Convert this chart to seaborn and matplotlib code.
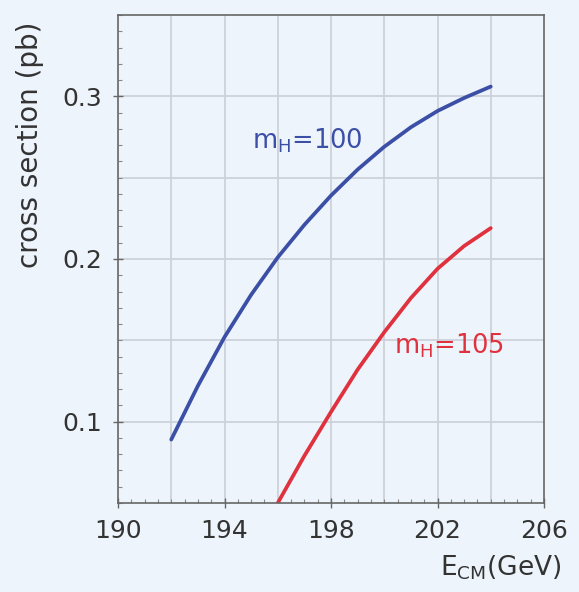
import numpy as np
import pandas as pd
import matplotlib
matplotlib.use("Agg")
import matplotlib.pyplot as plt
import seaborn as sns
from matplotlib.ticker import MultipleLocator

# Data
e_blue = [192, 193, 194, 195, 196, 197, 198, 199, 200, 201, 202, 203, 204]
xs_blue = [0.089, 0.122, 0.152, 0.178, 0.201, 0.221, 0.239, 0.255, 0.269, 0.281, 0.291, 0.299, 0.306]
e_red = [196, 197, 198, 199, 200, 201, 202, 203, 204]
xs_red = [0.050, 0.079, 0.106, 0.132, 0.155, 0.176, 0.194, 0.208, 0.219]
series_names = ["m_H=100", "m_H=105"]
x_ticks = [190, 194, 198, 202, 206]
y_ticks = [0.1, 0.2, 0.3]

df = pd.DataFrame({
    "E": e_blue + e_red,
    "xs": xs_blue + xs_red,
    "series": [series_names[0]] * len(e_blue) + [series_names[1]] * len(e_red),
})

sns.set_theme(style="ticks")
plt.rcParams['font.family'] = ['DejaVu Sans']
plt.rcParams['mathtext.fontset'] = 'dejavusans'
plt.rcParams['mathtext.default'] = 'regular'

bg = "#edf4fb"
fig = plt.figure(figsize=(5.79, 5.92), dpi=100, facecolor=bg)
ax = fig.add_axes([118/579, 1 - 503/592, (544-118)/579, (503-15)/592])
ax.set_facecolor(bg)

blue = "#3c4fa6"
red = "#e0323e"
palette = {series_names[0]: blue, series_names[1]: red}
sns.lineplot(data=df, x="E", y="xs", hue="series", palette=palette, ax=ax,
             linewidth=2.7, legend=False, estimator=None, sort=True)

ax.set_xlim(190, 206)
ax.set_ylim(0.05, 0.35)
ax.set_xticks(x_ticks)
ax.set_yticks(y_ticks)
ax.set_xticklabels([str(t) for t in x_ticks])
ax.set_yticklabels([f"{t:.1f}" for t in y_ticks])
ax.xaxis.set_minor_locator(MultipleLocator(0.5))
ax.yaxis.set_minor_locator(MultipleLocator(0.01))
ax.tick_params(axis='both', which='major', direction='inout', length=7, width=1,
               color="#666666", labelsize=18, labelcolor="#333333", pad=8)
ax.tick_params(axis='both', which='minor', direction='in', length=3, width=0.8, color="#888888")

# grid
for gx in np.arange(192, 206, 2):
    ax.axvline(gx, color="#cdd2da", lw=1.3, zorder=0)
for gy in np.arange(0.1, 0.35, 0.05):
    ax.axhline(gy, color="#cdd2da", lw=1.3, zorder=0)

for s in ax.spines.values():
    s.set_color("#666666")
    s.set_linewidth(1.2)

ax.set_xlabel("")
ax.set_ylabel("")

ax.text(195.05, 0.268, r"m$_H$=100", color=blue, fontsize=18.5, va="baseline", ha="left")
ax.text(200.35, 0.142, r"m$_H$=105", color=red, fontsize=18.5, va="baseline", ha="left")

fig.text(561/579, 1 - 568/592, r"E$_{CM}$(GeV)", fontsize=19, color="#333333",
         ha="right", va="center")
fig.text(30/579, 1 - 22/592, "cross section (pb)", fontsize=20, color="#333333",
         rotation=90, ha="center", va="top")

fig.savefig("out.png", dpi=100, facecolor=bg)
